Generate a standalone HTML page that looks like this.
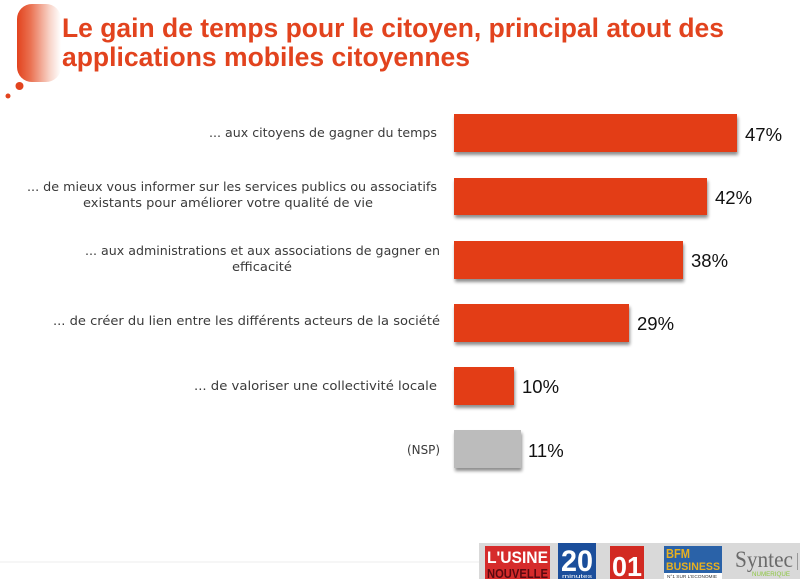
<!DOCTYPE html>
<html>
<head>
<meta charset="utf-8">
<style>
  html,body{margin:0;padding:0;background:#fff;}
  body{width:800px;height:579px;overflow:hidden;}
  svg{display:block;}
</style>
</head>
<body>
<svg width="800" height="579" viewBox="0 0 800 579" xmlns="http://www.w3.org/2000/svg">
  <defs>
    <linearGradient id="deco" x1="0" y1="0" x2="1" y2="0">
      <stop offset="0" stop-color="#e2431e"/>
      <stop offset="0.3" stop-color="#ea7050"/>
      <stop offset="0.75" stop-color="#f8d5ca"/>
      <stop offset="1" stop-color="#ffffff"/>
    </linearGradient>
    <filter id="sh" x="-5%" y="-10%" width="115%" height="140%">
      <feGaussianBlur in="SourceAlpha" stdDeviation="1.6"/>
      <feOffset dx="1" dy="3" result="b"/>
      <feComponentTransfer><feFuncA type="linear" slope="0.45"/></feComponentTransfer>
      <feMerge><feMergeNode/><feMergeNode in="SourceGraphic"/></feMerge>
    </filter>
  </defs>

  <!-- decoration -->
  <rect x="17" y="4" width="44" height="78" rx="15" ry="15" fill="url(#deco)"/>
  <circle cx="19.5" cy="86" r="4" fill="#e2431e"/>
  <circle cx="8" cy="96" r="2.5" fill="#e2431e"/>

  <!-- title -->
  <g font-family="'Liberation Sans', 'DejaVu Sans', sans-serif" font-weight="bold" fill="#e2431e" font-size="27">
    <text x="62" y="37" textLength="662" lengthAdjust="spacingAndGlyphs">Le gain de temps pour le citoyen, principal atout des</text>
    <text x="62" y="66" textLength="408" lengthAdjust="spacingAndGlyphs">applications mobiles citoyennes</text>
  </g>

  <!-- category labels -->
  <g font-family="'DejaVu Sans', 'Liberation Sans', sans-serif" font-size="12" fill="#3a3a3a">
    <text x="209" y="137" textLength="228" lengthAdjust="spacingAndGlyphs">... aux citoyens de gagner du temps</text>
    <text x="27" y="191" textLength="410" lengthAdjust="spacingAndGlyphs">... de mieux vous informer sur les services publics ou associatifs</text>
    <text x="83" y="207" textLength="290" lengthAdjust="spacingAndGlyphs">existants pour améliorer votre qualité de vie</text>
    <text x="85" y="255" textLength="355" lengthAdjust="spacingAndGlyphs">... aux administrations et aux associations de gagner en</text>
    <text x="232" y="271" textLength="60" lengthAdjust="spacingAndGlyphs">efficacité</text>
    <text x="53" y="325" textLength="387" lengthAdjust="spacingAndGlyphs">... de créer du lien entre les différents acteurs de la société</text>
    <text x="194" y="390" textLength="243" lengthAdjust="spacingAndGlyphs">... de valoriser une collectivité locale</text>
    <text x="407" y="454" textLength="33" lengthAdjust="spacingAndGlyphs">(NSP)</text>
  </g>

  <!-- bars -->
  <g filter="url(#sh)">
    <rect x="454" y="114" width="283" height="38" fill="#e33c16"/>
    <rect x="454" y="178" width="253" height="37" fill="#e33c16"/>
    <rect x="454" y="241" width="229" height="38" fill="#e33c16"/>
    <rect x="454" y="304" width="175" height="38" fill="#e33c16"/>
    <rect x="454" y="367" width="60" height="38" fill="#e33c16"/>
    <rect x="454" y="430" width="67" height="38" fill="#bcbcbc"/>
  </g>

  <!-- values -->
  <g font-family="'Liberation Sans', 'DejaVu Sans', sans-serif" font-size="18.5" fill="#111">
    <text x="745" y="141">47%</text>
    <text x="715" y="204">42%</text>
    <text x="691" y="267">38%</text>
    <text x="637" y="330">29%</text>
    <text x="522" y="393">10%</text>
    <text x="528" y="457">11%</text>
  </g>

  <!-- faint footer lines -->
  <line x1="0" y1="562" x2="479" y2="562" stroke="#ececec" stroke-width="1"/>

  <!-- logo strip -->
  <rect x="479" y="543" width="321" height="36" fill="#d9d9d9"/>

  <!-- L'USINE NOUVELLE -->
  <rect x="485" y="546" width="65" height="33" fill="#d62b2b"/>
  <text x="487" y="563" font-family="'Liberation Sans', sans-serif" font-weight="bold" font-size="17" fill="#fff" textLength="61" lengthAdjust="spacingAndGlyphs">L'USINE</text>
  <text x="487" y="578" font-family="'Liberation Sans', sans-serif" font-weight="bold" font-size="13" fill="#5a0a10" textLength="61" lengthAdjust="spacingAndGlyphs">NOUVELLE</text>

  <!-- 20 minutes -->
  <rect x="558" y="543" width="38" height="36" fill="#1b4e9b"/>
  <text x="561" y="571" font-family="'Liberation Sans', sans-serif" font-weight="bold" font-size="30" fill="#fff" textLength="32" lengthAdjust="spacingAndGlyphs">20</text>
  <text x="562" y="578" font-family="'Liberation Sans', sans-serif" font-size="5" fill="#fff" textLength="30" lengthAdjust="spacingAndGlyphs">minutes</text>

  <!-- 01 -->
  <rect x="610" y="546" width="34" height="33" fill="#d22a22"/>
  <text x="612" y="576" font-family="'Liberation Sans', sans-serif" font-weight="bold" font-size="28" fill="#fff" textLength="30" lengthAdjust="spacingAndGlyphs">01</text>

  <!-- BFM BUSINESS -->
  <rect x="664" y="546" width="58" height="27" fill="#2a62a8"/>
  <rect x="664" y="573" width="58" height="6" fill="#fff"/>
  <text x="666" y="558" font-family="'Liberation Sans', sans-serif" font-weight="bold" font-size="13" fill="#e8b020" textLength="24" lengthAdjust="spacingAndGlyphs">BFM</text>
  <text x="666" y="570" font-family="'Liberation Sans', sans-serif" font-weight="bold" font-size="11" fill="#e8b020" textLength="54" lengthAdjust="spacingAndGlyphs">BUSINESS</text>
  <text x="667" y="578" font-family="'Liberation Sans', sans-serif" font-size="4.5" fill="#333" textLength="50" lengthAdjust="spacingAndGlyphs">N°1 SUR L'ECONOMIE</text>

  <!-- Syntec -->
  <text x="735" y="567" font-family="'Liberation Serif', serif" font-size="23" fill="#6a6a6a" textLength="58" lengthAdjust="spacingAndGlyphs">Syntec</text>
  <text x="752" y="576" font-family="'Liberation Sans', sans-serif" font-size="6" fill="#8cc63f" textLength="38" lengthAdjust="spacingAndGlyphs">NUMERIQUE</text>
  <line x1="797.5" y1="553" x2="797.5" y2="570" stroke="#999" stroke-width="1"/>
</svg>
</body>
</html>
